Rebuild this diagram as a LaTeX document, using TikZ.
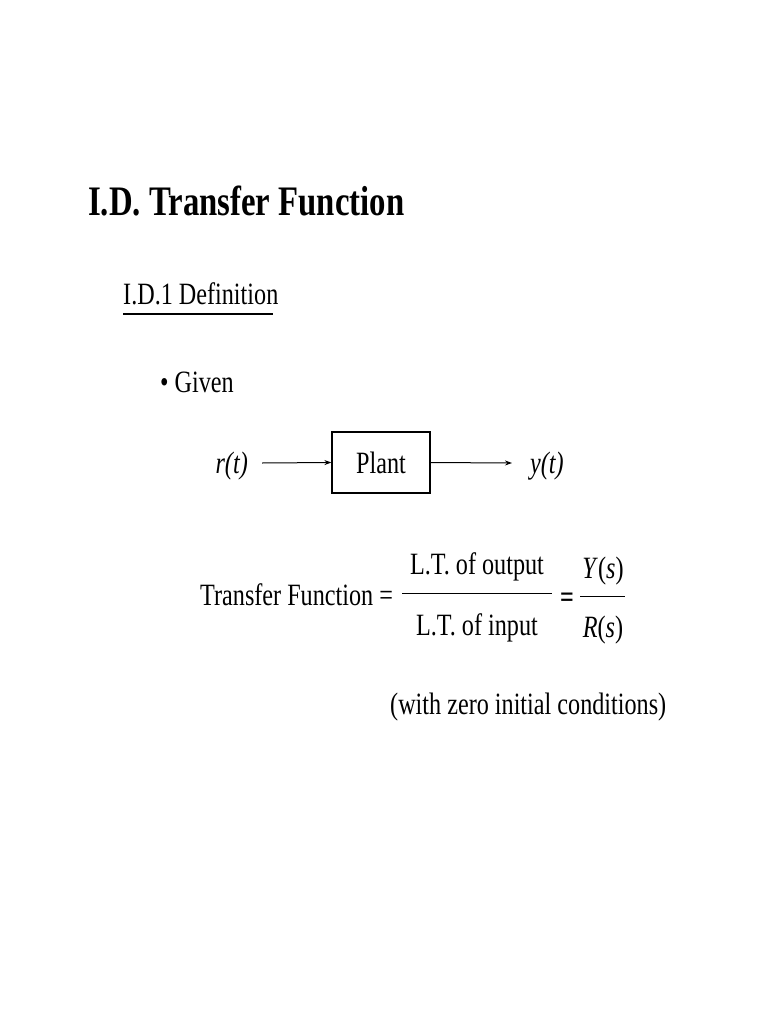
\documentclass[tikz,border=0pt]{standalone}
\usetikzlibrary{arrows.meta}
\usepackage{fontspec}
\setmainfont{Liberation Serif}[FakeStretch=0.78]
\begin{document}
\begin{tikzpicture}[x=1pt,y=-1pt,
  txt/.style={inner sep=0pt,font=\fontsize{31}{34}\selectfont},
  arr/.style={-{Stealth[length=7pt,width=5pt]},line width=1pt}]
\useasboundingbox (0,0) rectangle (768,1024);
\node[inner sep=0pt,anchor=base west,font=\fontsize{42}{46}\bfseries\selectfont] (title) at (88,216) {I.D. Transfer Function};
\node[txt,anchor=base west] (sub) at (123,304) {I.D.1 Definition};
\draw[line width=1.2pt] (123,314) -- (273,314);
\node[txt,anchor=base west] (given) at (160,392) {\textbullet\ Given};
\node[draw,line width=1.2pt,minimum width=98pt,minimum height=61pt,inner sep=0pt] (plant) at (381,462.5) {\fontsize{31}{34}\selectfont Plant};
\node[txt,anchor=base east] (r) at (248,473) {\itshape r(t)};
\node[txt,anchor=base west] (y) at (530,473) {\itshape y(t)};
\draw[arr] (262,463) -- (plant.west);
\draw[arr] (plant.east) -- (512,463);
\node[txt,anchor=base west] (tf) at (200,605) {Transfer Function =};
\node[txt,anchor=base] (num) at (477,574) {L.T. of output};
\node[txt,anchor=base] (den) at (477,635) {L.T. of input};
\draw[line width=1pt] (402,593) -- (552,593);
\node[txt,anchor=base] (eq) at (567,607) {\bfseries =};
\node[txt,anchor=base] (Ys) at (603,578) {\itshape Y\/\upshape(\itshape s\upshape)};
\node[txt,anchor=base] (Rs) at (603,637) {\itshape R\upshape(\itshape s\upshape)};
\draw[line width=1pt] (580,596) -- (625,596);
\node[txt,anchor=base west] (cond) at (390,714) {(with zero initial conditions)};
\end{tikzpicture}
\end{document}
